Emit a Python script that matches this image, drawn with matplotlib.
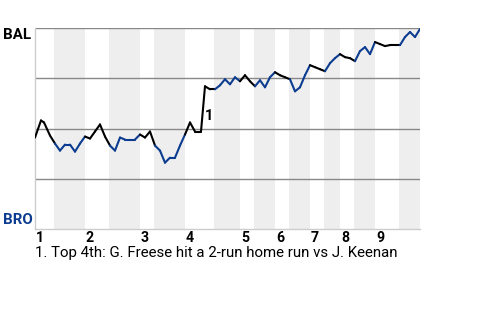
import matplotlib
matplotlib.use("Agg")
import matplotlib.pyplot as plt
import matplotlib.transforms as mtransforms

plt.rcParams["font.family"] = ["Roboto", "DejaVu Sans"]

# win probability for BAL (1 = BAL wins), indexed by plate appearance
pa = [0, 1.2, 1.8, 3, 4, 5, 6, 7, 8, 9, 10, 11, 12, 13, 14, 15, 16, 17, 18, 19,
      20, 21, 22, 23, 24, 25, 26, 27, 28, 29, 30, 31, 32, 33.2, 34, 35, 36, 37,
      38, 39, 40, 41, 42, 43, 44, 45, 46, 47, 48, 49, 50, 51, 52, 53, 54, 55,
      56, 57, 58, 59, 60, 61, 62, 63, 64, 65, 66, 67, 68, 69, 70, 71, 73, 74,
      75, 76, 77]
win_prob = [0.455, 0.54, 0.53, 0.465, 0.425, 0.39, 0.42, 0.42, 0.385, 0.425,
            0.46, 0.45, 0.485, 0.52, 0.46, 0.415, 0.39, 0.455, 0.445, 0.445,
            0.445, 0.47, 0.455, 0.485, 0.415, 0.39, 0.33, 0.355, 0.355, 0.415,
            0.47, 0.53, 0.485, 0.485, 0.71, 0.695, 0.695, 0.715, 0.745, 0.72,
            0.755, 0.735, 0.765, 0.735, 0.71, 0.74, 0.705, 0.755, 0.78, 0.765,
            0.755, 0.745, 0.685, 0.705, 0.765, 0.815, 0.805, 0.795, 0.785,
            0.825, 0.85, 0.87, 0.855, 0.85, 0.835, 0.885, 0.905, 0.87, 0.93,
            0.92, 0.91, 0.915, 0.915, 0.955, 0.98, 0.955, 0.995]

# bottom-half spans (BRO batting), shaded gray
bottom_halves = [(3.8, 10), (14.8, 21), (23.8, 30), (35.8, 41), (43.8, 48),
                 (50.8, 55), (57.8, 61), (63.8, 68), (72.8, 77)]
inning_starts = [0, 10, 21, 30, 41, 48, 55, 61, 68]
inning_labels = ["1", "2", "3", "4", "5", "6", "7", "8", "9"]

note_x, note_y, note_label = 34, 0.56, "1"
footnote = "1. Top 4th: G. Freese hit a 2-run home run vs J. Keenan"

BLUE = "#0c3c90"

fig = plt.figure(figsize=(4.8, 3.2), dpi=100)
ax = fig.add_axes([35 / 480, 1 - 229 / 320, 385 / 480, 201 / 320])

for lo, hi in bottom_halves:
    ax.axvspan(lo, hi, color="#eeeeee", lw=0, zorder=0)

for y in [0.25, 0.5, 0.75, 1.0]:
    ax.axhline(y, color="#888888", lw=1.0, zorder=1)


def in_bottom(x):
    return any(lo <= x < hi for lo, hi in bottom_halves)


for i in range(len(pa) - 1):
    mid = (pa[i] + pa[i + 1]) / 2
    c = BLUE if in_bottom(mid) else "black"
    ax.plot(pa[i:i + 2], win_prob[i:i + 2], color=c, lw=1.5,
            solid_capstyle="round", zorder=3)

ax.text(note_x, note_y, note_label, fontsize=10.5, fontweight="bold",
        va="center", ha="left", zorder=4)

ax.set_xlim(0, 77)
ax.set_ylim(0, 1)
ax.set_xticks([])
ax.set_yticks([])
for side in ["top", "right"]:
    ax.spines[side].set_visible(False)
for side in ["left", "bottom"]:
    ax.spines[side].set_color("#cccccc")
    ax.spines[side].set_linewidth(1.0)

trans = mtransforms.blended_transform_factory(ax.transData, ax.transAxes)
for x, lab in zip(inning_starts, inning_labels):
    ax.text(x + 0.2, -0.045, lab, transform=trans, fontsize=10.2,
            fontweight="bold", ha="left", va="center")

fig.text(3 / 480, 1 - 35 / 320, "BAL", fontsize=10.8, fontweight="bold",
         color="black", ha="left", va="center")
fig.text(3 / 480, 1 - 220 / 320, "BRO", fontsize=10.8, fontweight="bold",
         color=BLUE, ha="left", va="center")
fig.text(35 / 480, 1 - 253 / 320, footnote, fontsize=10.8, ha="left",
         va="center")

fig.savefig("out.png", dpi=100)
